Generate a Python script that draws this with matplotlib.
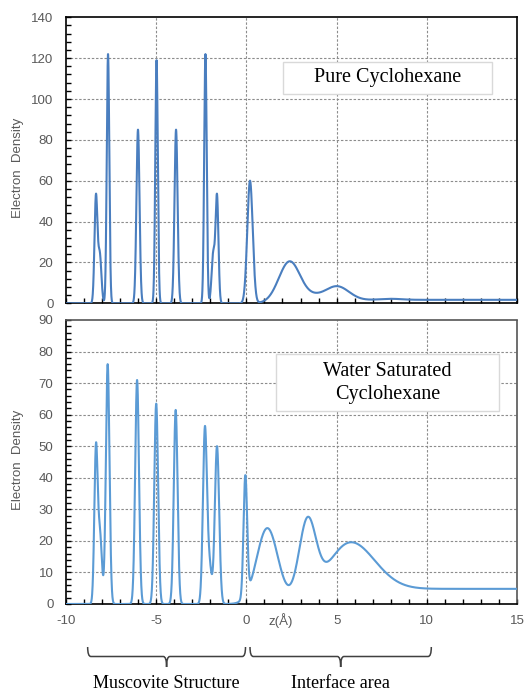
import numpy as np
import matplotlib
matplotlib.use("Agg")
import matplotlib.pyplot as plt
from matplotlib.patches import Rectangle, PathPatch
from matplotlib.path import Path
from matplotlib.ticker import MultipleLocator
from matplotlib.transforms import blended_transform_factory
from math import erf

plt.rcParams["axes.unicode_minus"] = False

# ---------------- data ----------------
# Pure cyclohexane: peak centres (Å), heights, widths (Å)
pure_centers = [-8.34, -8.13, -7.67, -6.01, -4.98, -3.90, -2.27, -1.84, -1.63, 0.20, 2.40, 3.70, 5.00, 8.00]
pure_heights = [52, 24, 122, 85, 119, 85, 122, 24, 52, 60, 20.5, 2.0, 8.2, 0.5]
pure_widths = [0.08, 0.09, 0.07, 0.085, 0.07, 0.085, 0.07, 0.09, 0.08, 0.15, 0.6, 0.5, 0.7, 0.6]
pure_bulk = 1.7          # bulk density level
pure_bulk_edge = (6.0, 1.0)

# Water saturated cyclohexane
wet_centers = [-8.34, -8.12, -7.69, -6.06, -5.00, -3.92, -2.30, -2.05, -1.63, -0.06, 1.16, 3.38, 5.74]
wet_heights = [48, 22, 76, 71, 63.5, 61.5, 55, 12, 50, 38, 24, 24, 15]
wet_widths = [0.09, 0.11, 0.10, 0.105, 0.105, 0.105, 0.11, 0.12, 0.12, 0.10, 0.59, 0.47, 1.36]
wet_bulk = 4.8
wet_bulk_edge = (4.6, 1.0)

x_ticks = [-10, -5, 0, 5, 10, 15]
pure_label = "Pure Cyclohexane"
wet_label = "Water Saturated\nCyclohexane"
brace_ranges = [(-8.8, -0.05), (0.2, 10.25)]
brace_labels = ["Muscovite Structure", "Interface area"]

# ---------------- build profiles ----------------
z = np.linspace(-10, 15, 6001)
verf = np.vectorize(erf)


def profile(centers, heights, widths, bulk, edge):
    rho = np.zeros_like(z)
    for c, h, w in zip(centers, heights, widths):
        rho += h * np.exp(-(z - c) ** 2 / (2 * w ** 2))
    rho += bulk * 0.5 * (1 + verf((z - edge[0]) / edge[1]))
    return rho


rho_pure = profile(pure_centers, pure_heights, pure_widths, pure_bulk, pure_bulk_edge)
rho_wet = profile(wet_centers, wet_heights, wet_widths, wet_bulk, wet_bulk_edge)

# ---------------- figure ----------------
W, H = 524, 691
fig = plt.figure(figsize=(W / 100, H / 100), dpi=100)
ax1 = fig.add_axes([66 / W, (H - 303.3) / H, 451 / W, 286 / H])
ax2 = fig.add_axes([66 / W, (H - 604) / H, 451 / W, 284 / H])

sans = ["Liberation Sans", "DejaVu Sans"]
serif = ["Liberation Serif", "DejaVu Serif"]
tick_col = "#595959"
grid_kw = dict(color="#8c8c8c", linestyle=(0, (2.2, 1.6)), linewidth=0.8)

ax1.plot(z, rho_pure, color="#4a7ebf", lw=1.5, zorder=3)
ax2.plot(z, rho_wet, color="#5b9bd5", lw=1.5, zorder=3)

for ax, ymax, major, minor in [(ax1, 140, 20, 4), (ax2, 90, 10, 2)]:
    ax.set_xlim(-10, 15)
    ax.set_ylim(0, ymax)
    ax.set_xticks(x_ticks)
    ax.xaxis.set_minor_locator(MultipleLocator(1))
    ax.yaxis.set_major_locator(MultipleLocator(major))
    ax.yaxis.set_minor_locator(MultipleLocator(minor))
    ax.tick_params(axis="both", which="both", direction="in", length=3.5,
                   width=1.0, color="black", labelcolor=tick_col, labelsize=9.5)
    ax.tick_params(axis="y", pad=9)
    ax.tick_params(axis="x", pad=8)
    for lab in ax.get_yticklabels() + ax.get_xticklabels():
        lab.set_family(sans)
    for yv in np.arange(major, ymax, major):
        ax.axhline(yv, zorder=1, **grid_kw)
    for xv in x_ticks[1:-1]:
        ax.axvline(xv, zorder=1, **grid_kw)
    ax.tick_params(top=False, right=False)

ax1.tick_params(axis="x", labelbottom=False)
for sp in ax1.spines.values():
    sp.set_color("black")
    sp.set_linewidth(1.2)
for name in ["left", "bottom"]:
    ax2.spines[name].set_color("black")
    ax2.spines[name].set_linewidth(1.2)
for name in ["top", "right"]:
    ax2.spines[name].set_color("#555555")
    ax2.spines[name].set_linewidth(1.2)
    ax2.spines[name].set_linestyle((0, (2, 1)))

# y labels
fig.text(18.3 / W, (H - 168) / H, "Electron  Density", rotation=90, ha="center",
         va="center", color=tick_col, fontsize=9.5, family=sans)
fig.text(18.3 / W, (H - 460) / H, "Electron  Density", rotation=90, ha="center",
         va="center", color=tick_col, fontsize=9.5, family=sans)
fig.text(280.5 / W, (H - 621) / H, "z(Å)", ha="center", va="center",
         color=tick_col, fontsize=9.5, family=sans)

# legend boxes
ax1.add_patch(Rectangle((0.481, 0.732), 0.464, 0.113, transform=ax1.transAxes,
                        facecolor="white", edgecolor="#d9d9d9", lw=1.0, zorder=4))
ax1.text(0.713, 0.788, pure_label, transform=ax1.transAxes, ha="center",
         va="center", fontsize=14.5, family=serif, color="black", zorder=5)
ax2.add_patch(Rectangle((0.466, 0.680), 0.494, 0.200, transform=ax2.transAxes,
                        facecolor="white", edgecolor="#d9d9d9", lw=1.0, zorder=4))
ax2.text(0.713, 0.778, wet_label, transform=ax2.transAxes, ha="center",
         va="center", fontsize=14.5, family=serif, color="black", zorder=5,
         linespacing=1.35)

# braces below the x axis
trans = blended_transform_factory(ax2.transData, fig.transFigure)
ytop, yflat, ytip = (H - 647) / H, (H - 656.5) / H, (H - 667) / H
d = 0.18
for (x0, x1), lab in zip(brace_ranges, brace_labels):
    cx = 0.5 * (x0 + x1)
    verts = [(x0, ytop), (x0, yflat), (x0 + d, yflat),
             (cx - d, yflat),
             (cx, yflat), (cx, ytip),
             (cx, yflat), (cx + d, yflat),
             (x1 - d, yflat),
             (x1, yflat), (x1, ytop)]
    codes = [Path.MOVETO, Path.CURVE3, Path.CURVE3,
             Path.LINETO,
             Path.CURVE3, Path.CURVE3,
             Path.CURVE3, Path.CURVE3,
             Path.LINETO,
             Path.CURVE3, Path.CURVE3]
    patch = PathPatch(Path(verts, codes), transform=trans, facecolor="none",
                      edgecolor="#404040", lw=1.1, clip_on=False)
    fig.add_artist(patch)
    fig.text(cx, (H - 683) / H, lab, transform=trans, ha="center", va="center",
             fontsize=13, family=serif, color="black")

fig.savefig("out.png", dpi=100)
